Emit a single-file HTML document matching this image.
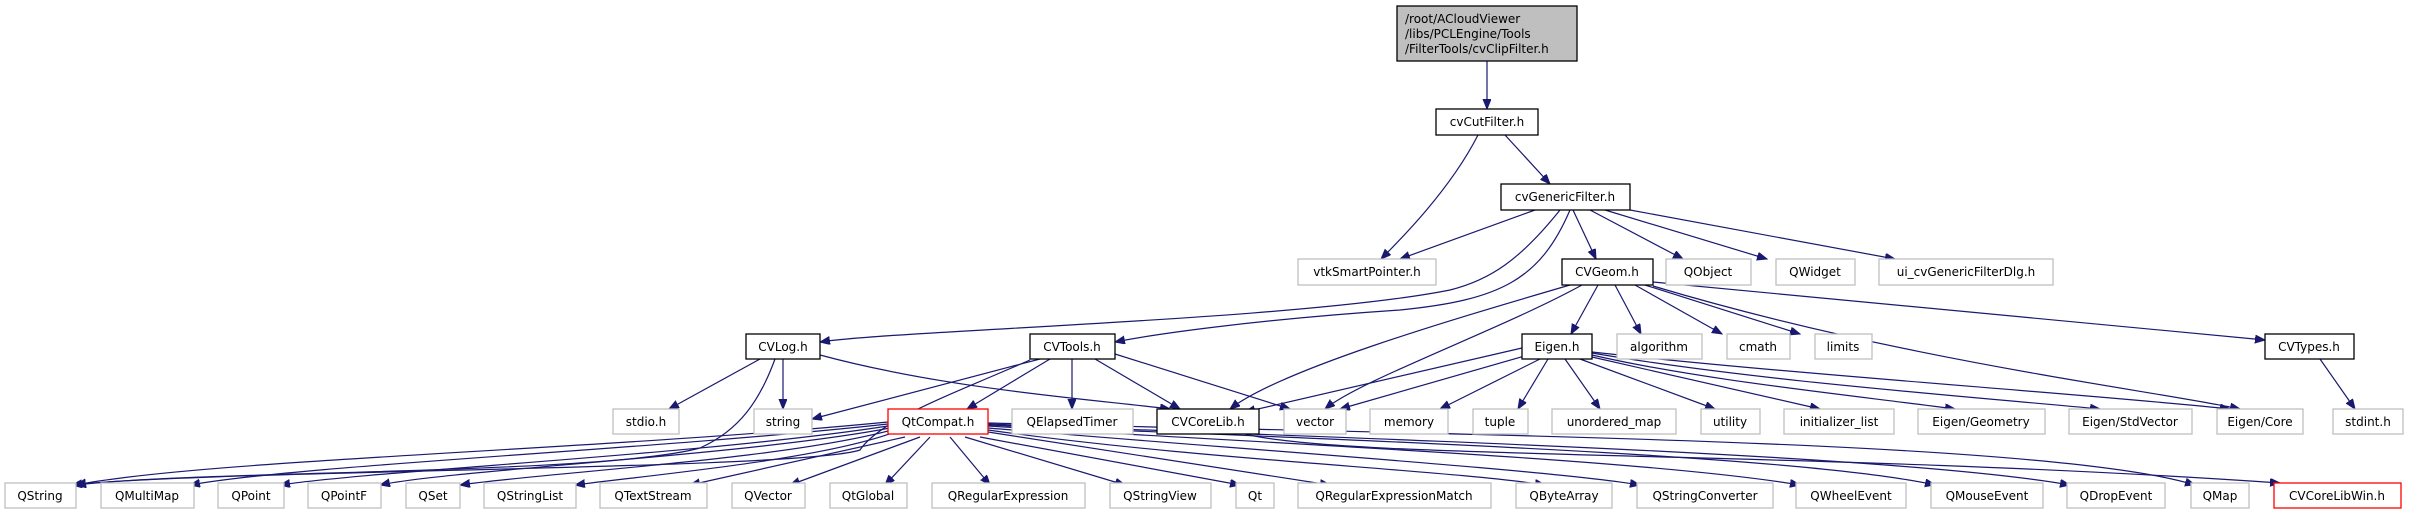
<!DOCTYPE html>
<html><head><meta charset="utf-8">
<style>
html,body{margin:0;padding:0;background:#fff;}
svg{display:block;}
text{font-family:"DejaVu Sans","Liberation Sans",sans-serif;font-size:12px;fill:#000;}
.g{fill:#fff;stroke:#bfbfbf;stroke-width:1.3;}
.b{fill:#fff;stroke:#000;stroke-width:1.3;}
.r{fill:#fff;stroke:#ff0000;stroke-width:1.3;}
.e{fill:none;stroke:#191970;stroke-width:1.2;}
</style></head><body>
<svg width="2409" height="515" viewBox="0 0 2409 515" xmlns="http://www.w3.org/2000/svg">
<defs>
<marker id="a" markerUnits="userSpaceOnUse" markerWidth="11" markerHeight="9" refX="10" refY="4" orient="auto">
<path d="M0,0 L10,4 L0,8 z" fill="#191970" stroke="#191970"/>
</marker>
</defs>
<g class="edges" marker-end="url(#a)">
<path class="e" marker-end="url(#a)" d="M1487,61 L1487,109"/>
<path class="e" marker-end="url(#a)" d="M1478,135 C1450,190 1400,240 1381,259"/>
<path class="e" marker-end="url(#a)" d="M1505,135 L1550,184"/>
<path class="e" marker-end="url(#a)" d="M1535,210 L1400,259"/>
<path class="e" marker-end="url(#a)" d="M1560,210 C1520,260 1490,280 1450,290 C1300,320 900,330 820,342"/>
<path class="e" marker-end="url(#a)" d="M1570,210 C1540,280 1500,300 1400,310 C1250,320 1150,335 1115,342"/>
<path class="e" marker-end="url(#a)" d="M1573,210 L1596,259"/>
<path class="e" marker-end="url(#a)" d="M1590,210 L1683,259"/>
<path class="e" marker-end="url(#a)" d="M1605,210 L1767,259"/>
<path class="e" marker-end="url(#a)" d="M1630,210 L1895,259"/>
<path class="e" marker-end="url(#a)" d="M1598,285 L1571,334"/>
<path class="e" marker-end="url(#a)" d="M1615,285 L1641,334"/>
<path class="e" marker-end="url(#a)" d="M1635,285 L1722,334"/>
<path class="e" marker-end="url(#a)" d="M1645,285 L1800,334"/>
<path class="e" marker-end="url(#a)" d="M1653,282 L2265,340"/>
<path class="e" marker-end="url(#a)" d="M1570,285 C1450,320 1280,370 1230,409"/>
<path class="e" marker-end="url(#a)" d="M1582,285 C1500,330 1360,380 1325,409"/>
<path class="e" marker-end="url(#a)" d="M1653,286 C1900,360 2150,390 2240,409"/>
<path class="e" marker-end="url(#a)" d="M2320,359 L2355,409"/>
<path class="e" marker-end="url(#a)" d="M760,359 L669,409"/>
<path class="e" marker-end="url(#a)" d="M783,359 L783,409"/>
<path class="e" marker-end="url(#a)" d="M775,359 C760,400 740,430 700,448 C600,475 200,470 76,485"/>
<path class="e" marker-end="url(#a)" d="M820,355 C950,390 1100,400 1170,409"/>
<path class="e" marker-end="url(#a)" d="M1040,359 L812,419"/>
<path class="e" marker-end="url(#a)" d="M1050,359 L967,409"/>
<path class="e" marker-end="url(#a)" d="M1072,359 L1072,409"/>
<path class="e" marker-end="url(#a)" d="M1095,359 L1180,409"/>
<path class="e" marker-end="url(#a)" d="M1115,354 L1290,409"/>
<path class="e" marker-end="url(#a)" d="M1030,360 C950,395 880,420 860,450 C800,470 200,470 72,485"/>
<path class="e" marker-end="url(#a)" d="M1522,348 L1245,412"/>
<path class="e" marker-end="url(#a)" d="M1528,355 L1340,409"/>
<path class="e" marker-end="url(#a)" d="M1540,359 L1440,409"/>
<path class="e" marker-end="url(#a)" d="M1548,359 L1518,409"/>
<path class="e" marker-end="url(#a)" d="M1565,359 L1600,409"/>
<path class="e" marker-end="url(#a)" d="M1580,359 L1715,409"/>
<path class="e" marker-end="url(#a)" d="M1592,357 L1820,409"/>
<path class="e" marker-end="url(#a)" d="M1592,355 C1700,380 1850,395 1955,409"/>
<path class="e" marker-end="url(#a)" d="M1592,353 C1750,380 1950,395 2100,409"/>
<path class="e" marker-end="url(#a)" d="M1592,352 C1800,375 2100,395 2230,409"/>
<path class="e" marker-end="url(#a)" d="M1245,434 C1350,460 1800,450 2280,483"/>
<path class="e" marker-end="url(#a)" d="M888,422 C600,450 200,460 76,485"/>
<path class="e" marker-end="url(#a)" d="M888,424 C650,450 300,465 190,485"/>
<path class="e" marker-end="url(#a)" d="M888,426 C700,455 380,470 280,485"/>
<path class="e" marker-end="url(#a)" d="M890,428 C750,455 450,470 380,485"/>
<path class="e" marker-end="url(#a)" d="M892,430 C780,460 550,472 460,485"/>
<path class="e" marker-end="url(#a)" d="M895,432 C820,460 650,475 575,485"/>
<path class="e" marker-end="url(#a)" d="M905,437 L690,485"/>
<path class="e" marker-end="url(#a)" d="M920,437 L790,485"/>
<path class="e" marker-end="url(#a)" d="M930,437 L885,485"/>
<path class="e" marker-end="url(#a)" d="M950,437 L990,485"/>
<path class="e" marker-end="url(#a)" d="M965,437 L1125,485"/>
<path class="e" marker-end="url(#a)" d="M980,437 L1240,485"/>
<path class="e" marker-end="url(#a)" d="M988,432 L1330,485"/>
<path class="e" marker-end="url(#a)" d="M988,430 C1200,460 1450,470 1545,485"/>
<path class="e" marker-end="url(#a)" d="M988,428 C1250,450 1550,470 1640,485"/>
<path class="e" marker-end="url(#a)" d="M988,426 C1300,445 1650,460 1800,485"/>
<path class="e" marker-end="url(#a)" d="M988,425 C1350,440 1800,455 1935,485"/>
<path class="e" marker-end="url(#a)" d="M988,424 C1400,440 1900,455 2070,485"/>
<path class="e" marker-end="url(#a)" d="M988,423 C1450,435 2050,440 2195,485"/>
</g>

<!-- root -->
<rect x="1397" y="6" width="180" height="55" fill="#bfbfbf" stroke="#000" stroke-width="1.3"/>
<text x="1405" y="23">/root/ACloudViewer</text>
<text x="1405" y="38">/libs/PCLEngine/Tools</text>
<text x="1405" y="53">/FilterTools/cvClipFilter.h</text>

<g text-anchor="middle">
<rect class="b" x="1436" y="109" width="102" height="26"/><text x="1487" y="126">cvCutFilter.h</text>
<rect class="b" x="1501" y="184" width="129" height="26"/><text x="1565" y="201">cvGenericFilter.h</text>

<rect class="g" x="1298" y="259" width="138" height="26"/><text x="1367" y="276">vtkSmartPointer.h</text>
<rect class="b" x="1562" y="259" width="91" height="26"/><text x="1607" y="276">CVGeom.h</text>
<rect class="g" x="1666" y="259" width="85" height="26"/><text x="1708" y="276">QObject</text>
<rect class="g" x="1776" y="259" width="79" height="26"/><text x="1815" y="276">QWidget</text>
<rect class="g" x="1879" y="259" width="174" height="26"/><text x="1966" y="276">ui_cvGenericFilterDlg.h</text>

<rect class="b" x="746" y="334" width="74" height="25"/><text x="783" y="351">CVLog.h</text>
<rect class="b" x="1030" y="334" width="85" height="25"/><text x="1072" y="351">CVTools.h</text>
<rect class="b" x="1522" y="334" width="70" height="25"/><text x="1557" y="351">Eigen.h</text>
<rect class="g" x="1617" y="334" width="85" height="25"/><text x="1659" y="351">algorithm</text>
<rect class="g" x="1727" y="334" width="63" height="25"/><text x="1758" y="351">cmath</text>
<rect class="g" x="1815" y="334" width="57" height="25"/><text x="1843" y="351">limits</text>
<rect class="b" x="2265" y="334" width="89" height="25"/><text x="2309" y="351">CVTypes.h</text>

<rect class="g" x="613" y="409" width="66" height="25"/><text x="646" y="426">stdio.h</text>
<rect class="g" x="754" y="409" width="58" height="25"/><text x="783" y="426">string</text>
<rect class="r" x="888" y="409" width="100" height="25"/><text x="938" y="426">QtCompat.h</text>
<rect class="g" x="1012" y="409" width="121" height="25"/><text x="1072" y="426">QElapsedTimer</text>
<rect class="b" x="1157" y="409" width="102" height="25"/><text x="1208" y="426">CVCoreLib.h</text>
<rect class="g" x="1284" y="409" width="62" height="25"/><text x="1315" y="426">vector</text>
<rect class="g" x="1370" y="409" width="78" height="25"/><text x="1409" y="426">memory</text>
<rect class="g" x="1473" y="409" width="55" height="25"/><text x="1500" y="426">tuple</text>
<rect class="g" x="1552" y="409" width="124" height="25"/><text x="1614" y="426">unordered_map</text>
<rect class="g" x="1701" y="409" width="59" height="25"/><text x="1730" y="426">utility</text>
<rect class="g" x="1784" y="409" width="110" height="25"/><text x="1839" y="426">initializer_list</text>
<rect class="g" x="1918" y="409" width="127" height="25"/><text x="1981" y="426">Eigen/Geometry</text>
<rect class="g" x="2069" y="409" width="123" height="25"/><text x="2130" y="426">Eigen/StdVector</text>
<rect class="g" x="2217" y="409" width="86" height="25"/><text x="2260" y="426">Eigen/Core</text>
<rect class="g" x="2333" y="409" width="70" height="25"/><text x="2368" y="426">stdint.h</text>

<rect class="g" x="5" y="483" width="71" height="25"/><text x="40" y="500">QString</text>
<rect class="g" x="101" y="483" width="93" height="25"/><text x="147" y="500">QMultiMap</text>
<rect class="g" x="218" y="483" width="66" height="25"/><text x="251" y="500">QPoint</text>
<rect class="g" x="308" y="483" width="73" height="25"/><text x="344" y="500">QPointF</text>
<rect class="g" x="406" y="483" width="54" height="25"/><text x="433" y="500">QSet</text>
<rect class="g" x="484" y="483" width="92" height="25"/><text x="530" y="500">QStringList</text>
<rect class="g" x="600" y="483" width="107" height="25"/><text x="653" y="500">QTextStream</text>
<rect class="g" x="732" y="483" width="73" height="25"/><text x="768" y="500">QVector</text>
<rect class="g" x="830" y="483" width="77" height="25"/><text x="868" y="500">QtGlobal</text>
<rect class="g" x="932" y="483" width="153" height="25"/><text x="1008" y="500">QRegularExpression</text>
<rect class="g" x="1110" y="483" width="101" height="25"/><text x="1160" y="500">QStringView</text>
<rect class="g" x="1236" y="483" width="38" height="25"/><text x="1255" y="500">Qt</text>
<rect class="g" x="1298" y="483" width="193" height="25"/><text x="1394" y="500">QRegularExpressionMatch</text>
<rect class="g" x="1516" y="483" width="96" height="25"/><text x="1564" y="500">QByteArray</text>
<rect class="g" x="1637" y="483" width="136" height="25"/><text x="1705" y="500">QStringConverter</text>
<rect class="g" x="1796" y="483" width="110" height="25"/><text x="1851" y="500">QWheelEvent</text>
<rect class="g" x="1931" y="483" width="112" height="25"/><text x="1987" y="500">QMouseEvent</text>
<rect class="g" x="2067" y="483" width="98" height="25"/><text x="2116" y="500">QDropEvent</text>
<rect class="g" x="2191" y="483" width="58" height="25"/><text x="2220" y="500">QMap</text>
<rect class="r" x="2274" y="483" width="127" height="25"/><text x="2337" y="500">CVCoreLibWin.h</text>
</g>
</svg>
</body></html>
